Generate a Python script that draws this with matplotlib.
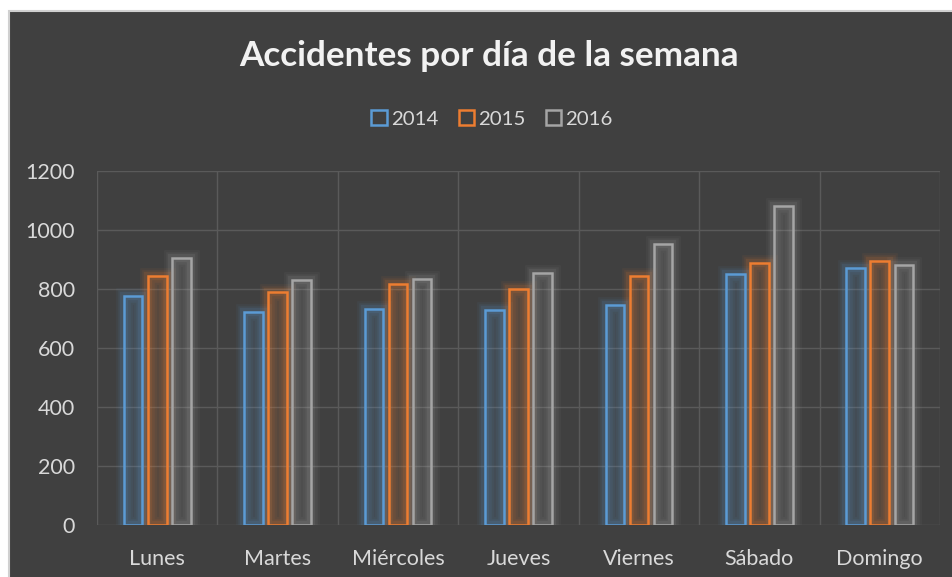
import numpy as np
import matplotlib
matplotlib.use("Agg")
from matplotlib import pyplot as plt
from matplotlib.patches import Rectangle

dias = ["Lunes", "Martes", "Miércoles", "Jueves", "Viernes", "Sábado", "Domingo"]
anios = ["2014", "2015", "2016"]
v2014 = [777, 721, 731, 728, 745, 850, 871]
v2015 = [845, 789, 816, 799, 845, 888, 895]
v2016 = [904, 829, 833, 853, 951, 1082, 882]
colores = ["#5B9BD5", "#ED7D31", "#A5A5A5"]

bg = "#404040"
txt = "#D9D9D9"
plt.rcParams['font.family'] = ['Lato', 'DejaVu Sans']

fig = plt.figure(figsize=(9.53, 5.77), dpi=100)
fig.patch.set_facecolor("white")
# dark chart area with thin light border (as in the screenshot)
fig.patches.append(Rectangle((9 / 953, -0.1), 1.1, 1.1 - 11 / 577, transform=fig.transFigure,
                             facecolor=bg, edgecolor="#D0D0D0", linewidth=1.5, zorder=-10))

ax = fig.add_axes([97 / 953, 52 / 577, 843 / 953, 354 / 577])
ax.set_facecolor("none")

x = np.arange(len(dias))
w = 0.155
for i, (vals, c) in enumerate(zip([v2014, v2015, v2016], colores)):
    pos = x + (i - 1) * 0.2
    # soft glow
    for lw, a in [(12, 0.06), (9, 0.08), (6, 0.12)]:
        ax.bar(pos, vals, w, facecolor="none", edgecolor=c, linewidth=lw, alpha=a, zorder=2)
    ax.bar(pos, vals, w, facecolor=c, alpha=0.14, edgecolor="none", zorder=3)
    ax.bar(pos, vals, w, facecolor="none", edgecolor=c, linewidth=1.8, zorder=4, label=anios[i])

ax.set_xlim(-0.5, len(dias) - 0.5)
ax.set_ylim(0, 1200)
ax.set_yticks(range(0, 1201, 200))
ax.set_xticks(x)
ax.set_xticklabels(dias)
ax.set_xticks(np.arange(-0.5, len(dias), 1), minor=True)
ax.grid(True, axis="y", color="#5A5A5A", linewidth=1, zorder=1)
ax.grid(True, axis="x", which="minor", color="#5A5A5A", linewidth=1, zorder=1)
ax.set_axisbelow(True)
for s in ax.spines.values():
    s.set_visible(False)
ax.tick_params(which="both", length=0, colors=txt, labelsize=15.5)
ax.tick_params(axis="y", pad=16)
ax.tick_params(axis="x", pad=17)

fig.text(489 / 953, 1 - 56 / 577, "Accidentes por día de la semana", ha="center", va="center",
         color="#F2F2F2", fontsize=25.3, fontweight="bold")

leg = ax.legend(loc="center", bbox_to_anchor=(492 / 953, 1 - 119 / 577),
                bbox_transform=fig.transFigure, ncol=3, frameon=False,
                fontsize=14.7, labelcolor=txt, handlelength=0.75, handleheight=0.75,
                handletextpad=0.2, columnspacing=1.0)

fig.savefig("out.png", dpi=100, facecolor=fig.get_facecolor())
